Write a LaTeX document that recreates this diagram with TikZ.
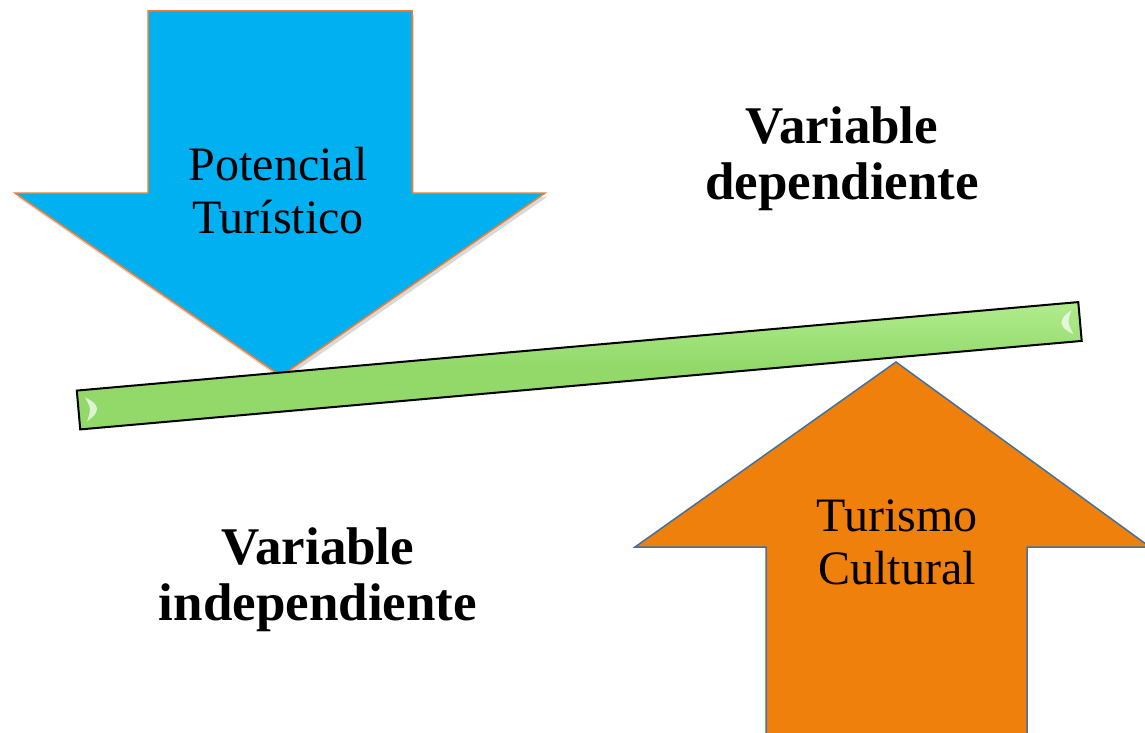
\documentclass[tikz,border=0pt]{standalone}
\usepackage{fontspec}
\setmainfont{Liberation Serif}
\usetikzlibrary{shadows}
\definecolor{skyblue}{RGB}{0,176,240}
\definecolor{darkorange}{RGB}{237,125,49}
\definecolor{arroworange}{RGB}{240,128,12}
\definecolor{steelblue}{RGB}{65,113,156}
\definecolor{barlight}{RGB}{178,236,142}
\definecolor{bargreen}{RGB}{146,217,106}
\tikzstyle{downarrow} = [fill=skyblue, draw=darkorange, line width=1.5pt, line join=miter, drop shadow={opacity=0.3, shadow xshift=2pt, shadow yshift=-4pt}]
\tikzstyle{uparrow} = [fill=arroworange, draw=steelblue, line width=1.5pt, line join=miter]
\tikzstyle{lever} = [draw=black, line width=2pt, top color=barlight, bottom color=bargreen, middle color=bargreen]
\tikzstyle{bevel} = [fill=white, opacity=0.7]
\tikzstyle{label} = [align=center, inner sep=0pt, font=\fontsize{48}{53}\selectfont]
\tikzstyle{title} = [align=center, inner sep=0pt, font=\fontsize{53}{56}\selectfont\bfseries]
\begin{document}
\begin{tikzpicture}[x=1pt, y=-1pt]
\useasboundingbox (0,0) rectangle (1145,733);

% blue arrow pointing down
\draw[downarrow] (148,11) -- (412,11) -- (412,193) -- (545,193) -- (281,376) -- (15,193) -- (148,193) -- cycle;

% orange arrow pointing up
\draw[uparrow] (766,740) -- (766,547) -- (635,547) -- (896,362) -- (1150,547) -- (1027,547) -- (1027,740);

% the bar
\begin{scope}[shift={(579.25,365.75)}, rotate=5.05]
\draw[lever] (-502.7,-19.5) rectangle (502.7,19.5);
\fill[bevel] (-495,-12) .. controls (-486,-6) .. (-484,0) .. controls (-486,6) .. (-495,12) .. controls (-490,0) .. cycle;
\fill[bevel] (495,-12) .. controls (486,-6) .. (484,0) .. controls (486,6) .. (495,12) .. controls (490,0) .. cycle;
\end{scope}

\node (pot) [label] at (278,191) {Potencial\\Turístico};
\node (tur) [label] at (897,542) {Turismo\\Cultural};
\node (dep) [title] at (842,159) {Variable\\dependiente};
\node (indep) [title] at (318,580) {Variable\\independiente};
\end{tikzpicture}
\end{document}
